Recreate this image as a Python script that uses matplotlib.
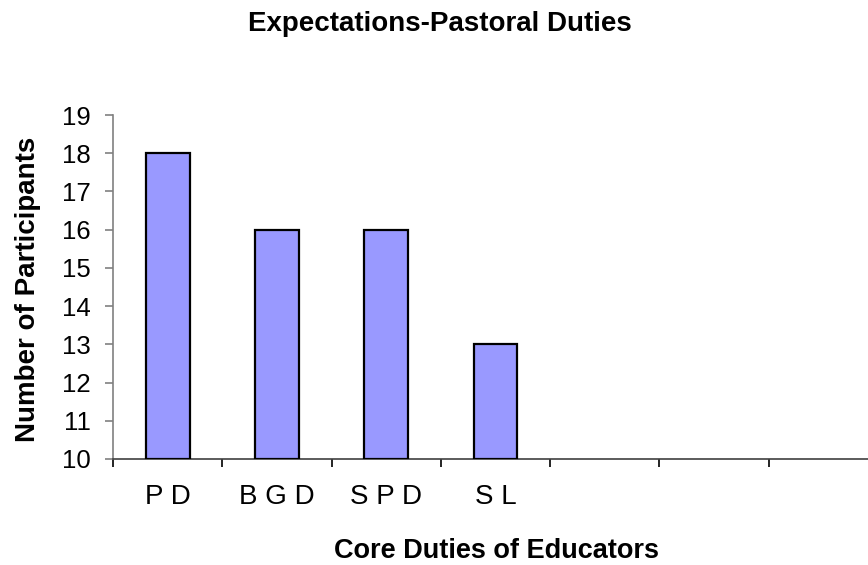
import matplotlib.pyplot as plt
import numpy as np

# chart data
duties = ['PD', 'BGD', 'SPD', 'SL', '', '', '']
participants = [18, 16, 16, 13]
y_ticks = list(range(10, 20))

plt.rcParams['font.family'] = ['Liberation Sans', 'DejaVu Sans']

fig = plt.figure(figsize=(8.68, 5.65), dpi=100)
W, H = 868, 565
# plot area in pixels (axis runs past the right edge as in the source)
left, right, top, bottom = 113, 878, 115, 459
ax = fig.add_axes([left / W, 1 - bottom / H, (right - left) / W, (bottom - top) / H])

n_slots = len(duties)
centers = np.arange(len(participants)) + 0.5
ax.bar(centers, np.array(participants) - 10, bottom=10, width=0.4,
       color='#9999FF', edgecolor='black', linewidth=1.6, zorder=3)

ax.set_xlim(0, n_slots)
ax.set_ylim(10, 19)
ax.set_yticks(y_ticks)
ax.set_yticklabels([str(v) for v in y_ticks], fontsize=18.5)

# major ticks at slot boundaries, labels at slot centers
ax.set_xticks(np.arange(n_slots + 1))
ax.set_xticklabels([])
ax.set_xticks(np.arange(n_slots) + 0.5, minor=True)
ax.set_xticklabels([' '.join(d) for d in duties], minor=True, fontsize=20)
ax.tick_params(axis='x', which='minor', length=0, pad=18)
ax.tick_params(axis='x', which='major', length=6, width=1.2, color='black')
ax.tick_params(axis='y', length=6, width=1.2, color='#808080', pad=10)

for s in ['top', 'right']:
    ax.spines[s].set_visible(False)
ax.spines['left'].set_color('#808080')
ax.spines['bottom'].set_color('#404040')
ax.spines['left'].set_linewidth(1.2)
ax.spines['bottom'].set_linewidth(1.2)

fig.text(440 / W, 1 - 31 / H, 'Expectations-Pastoral Duties', ha='center', va='baseline',
         fontsize=20, fontweight='bold')
fig.text(496 / W, 1 - 558 / H, 'Core Duties of Educators', ha='center', va='baseline',
         fontsize=19.5, fontweight='bold')
fig.text(35 / W, 1 - 289 / H, 'Number of Participants', ha='center', va='baseline',
         rotation=90, rotation_mode='anchor', fontsize=20, fontweight='bold')

fig.savefig('out.png', dpi=100)
